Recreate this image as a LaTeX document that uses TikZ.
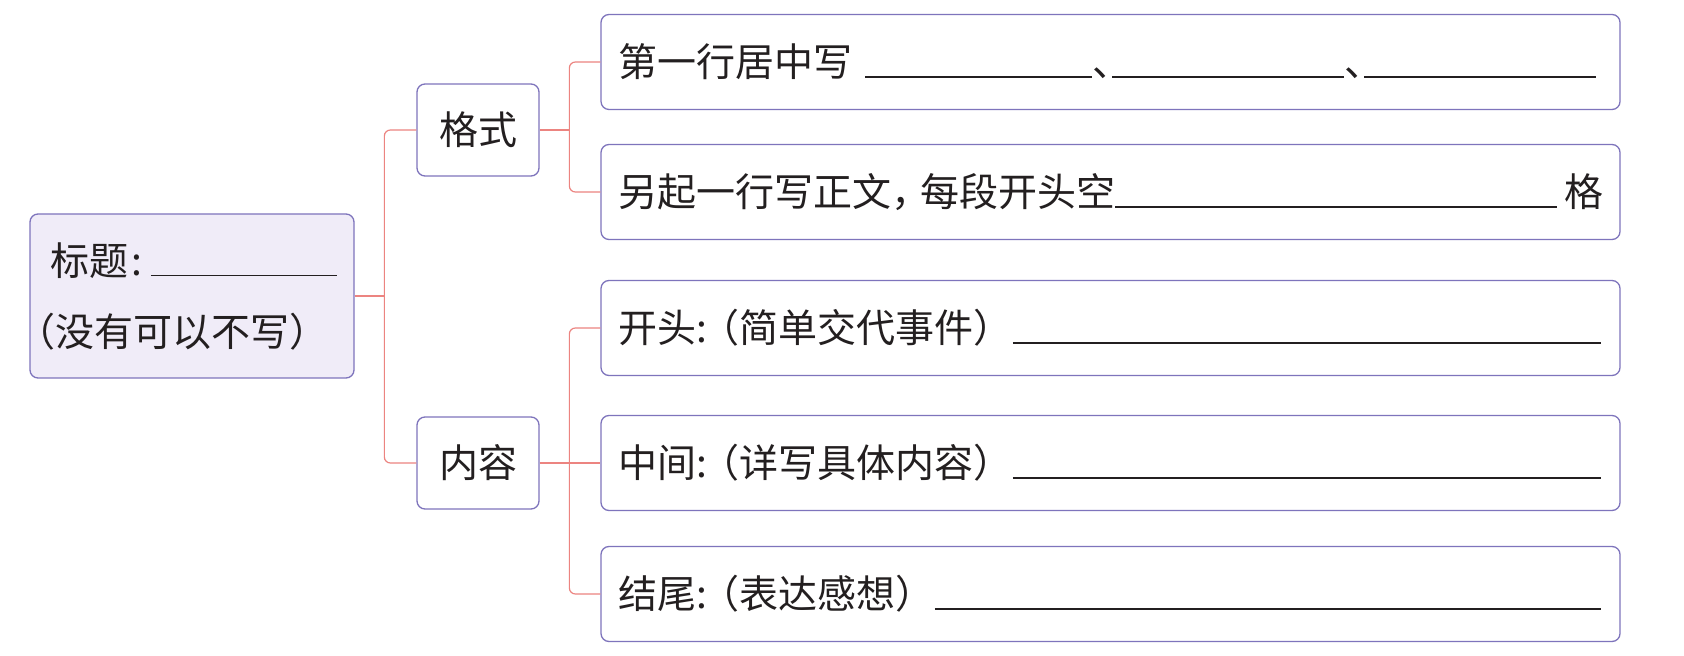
\documentclass[tikz,border=0pt]{standalone}
\usepackage{fontspec}
\setmainfont{Noto Sans CJK SC}
\definecolor{edge}{HTML}{7E74BC}
\definecolor{link}{HTML}{EC8480}
\definecolor{rootfill}{HTML}{F0ECF8}
\definecolor{ink}{HTML}{231F20}
\newcommand\ulfill{\leaders\hrule height 0.25pt depth 0.55pt\hskip 0pt plus 1fill\relax}
\newcommand\ulbox[1]{\rule[-0.55pt]{#1}{0.8pt}}
\newcommand\dunhao{\makebox[10pt][l]{、}}
\begin{document}
\begin{tikzpicture}[x=0.5pt,y=-0.5pt,
  every node/.style={text=ink, font=\fontsize{19.5}{23}\selectfont},
  mbox/.style={draw=edge, line width=0.65pt, rounded corners=4pt, inner sep=0pt,
    minimum width=61pt, minimum height=46pt},
  leaf/.style={draw=edge, line width=0.65pt, rounded corners=4pt, inner xsep=8.5pt,
    inner ysep=0pt, minimum width=509.5pt, minimum height=47.5pt},
  conn/.style={draw=link, line width=0.6pt, rounded corners=3pt}]
\useasboundingbox (0,0) rectangle (1684,656);
\fill[white] (0,0) rectangle (1684,656);

% root
\node[mbox, fill=rootfill, minimum width=162pt, minimum height=82pt,
  align=left, text width=142pt, inner xsep=10pt,
  font=\fontsize{19.5}{35.5}\selectfont] (root) at (192,296)
  {标题\kern2pt:\kern4pt\ulbox{93pt}\\\hspace*{-0.85em}（没有可以不写）};

% second level
\node[mbox] (gs) at (478,130) {格式};
\node[mbox] (nr) at (478,463) {内容};

% leaves
\node[leaf] (b1) at (1110.5,62)
  {\makebox[492.5pt][l]{第一行居中写\kern6.5pt\ulbox{113.5pt}\dunhao\ulbox{116pt}\dunhao\ulbox{116pt}}};
\node[leaf] (b2) at (1110.5,192)
  {\makebox[492.5pt][l]{另起一行写正文，\kern-0.25em 每段开头空\ulfill\kern3.5pt 格}};
\node[leaf] (b3) at (1110.5,328)
  {\makebox[492.5pt][l]{开头:\kern-3pt（简单交代事件）\ulfill\kern1pt}};
\node[leaf] (b4) at (1110.5,463)
  {\makebox[492.5pt][l]{中间:\kern-3pt（详写具体内容）\ulfill\kern1pt}};
\node[leaf] (b5) at (1110.5,594)
  {\makebox[492.5pt][l]{结尾:\kern-3pt（表达感想）\ulfill\kern1pt}};

% connectors
\coordinate (t1) at (385,296);
\draw[conn] (root.east) -- (t1);
\draw[conn] (gs.west) -- ++(-32,0) |- (nr.west);
\coordinate (t2) at (570,130);
\draw[conn] (gs.east) -- (t2);
\draw[conn] (b1.west) -- ++(-31,0) |- (b2.west);
\draw[conn] (b3.west) -- ++(-31,0) |- (b5.west);
\draw[conn] (nr.east) -- (b4.west);
\end{tikzpicture}
\end{document}
